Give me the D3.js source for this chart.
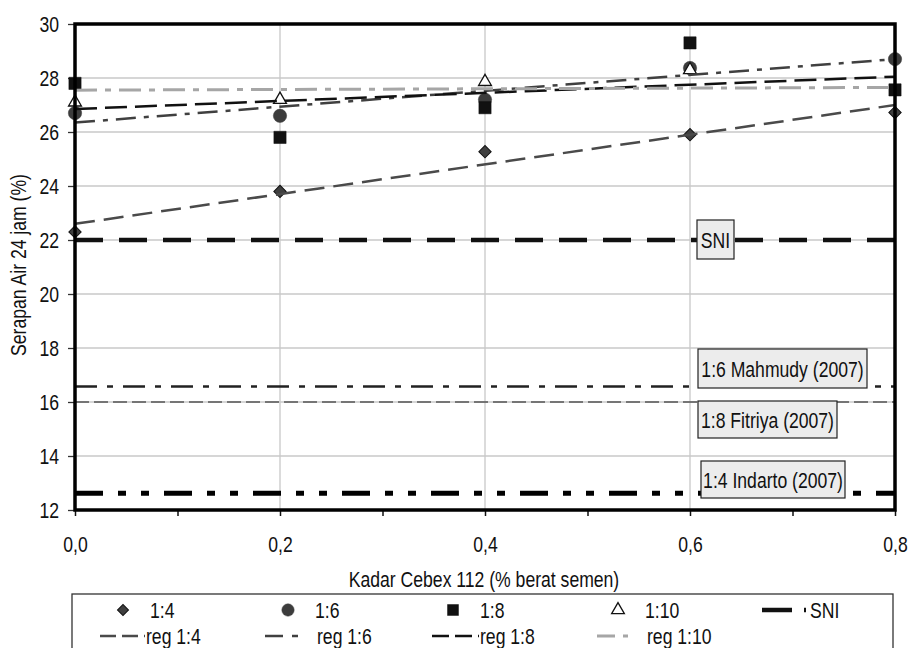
<!DOCTYPE html>
<html><head><meta charset="utf-8">
<script src="https://cdn.jsdelivr.net/npm/d3@7"></script>
<style>
body{margin:0;background:#fff;}
text{font-family:"Liberation Sans",Arial,sans-serif;fill:#111;}
</style></head>
<body><svg id="c" width="910" height="648"></svg>
<script>
// ---- data ----
const xVals = [0, 0.2, 0.4, 0.6, 0.8];
const xTickLabels = ["0,0", "0,2", "0,4", "0,6", "0,8"];
const yTickVals = [12, 14, 16, 18, 20, 22, 24, 26, 28, 30];
const s14 = [22.3, 23.8, 25.27, 25.9, 26.72];
const s16 = [26.7, 26.6, 27.2, 28.37, 28.7];
const s18 = [27.8, 25.8, 26.9, 29.3, 27.56];
const s110 = [27.1, 27.2, 27.86, 28.3, null];
const regX = [0, 0.8];
const reg14 = [22.6, 27.0];
const reg16 = [26.35, 28.7];
const reg18 = [26.85, 28.05];
const reg110 = [27.55, 27.65];
const refNames = ["SNI", "1:6 Mahmudy (2007)", "1:8 Fitriya (2007)", "1:4 Indarto (2007)"];
const refValues = [22, 16.57, 16.0, 12.62];
const legendRow1 = ["1:4", "1:6", "1:8", "1:10", "SNI"];
const legendRow2 = ["reg 1:4", "reg 1:6", "reg 1:8", "reg 1:10"];
const xTitle = "Kadar Cebex 112 (% berat semen)";
const yTitle = "Serapan Air 24 jam (%)";

// ---- layout ----
const svg = d3.select("#c");
const x = d3.scaleLinear().domain([0, 0.8]).range([75, 895]);
const y = d3.scaleLinear().domain([12, 30]).range([510, 24]);
const FS = 22;
const NARROW = 0.8;

// condense text horizontally (Arial-Narrow look)
function condense(sel) {
  sel.each(function () {
    const t = d3.select(this);
    const X = +t.attr("x") || 0, Y = +t.attr("y") || 0;
    const prev = t.attr("transform") || "";
    t.attr("x", 0).attr("y", 0).attr("transform", `${prev} translate(${X},${Y}) scale(${NARROW},1)`);
  });
}

// grid
const g = svg.append("g");
g.selectAll(".hg").data(yTickVals.filter(v => v > 12 && v < 30)).enter().append("line")
  .attr("x1", x(0)).attr("x2", x(0.8)).attr("y1", d => y(d)).attr("y2", d => y(d))
  .attr("stroke", "#c8c8c8").attr("stroke-width", 1.3);
g.selectAll(".vg").data([0.2, 0.4, 0.6]).enter().append("line")
  .attr("y1", y(12)).attr("y2", y(30)).attr("x1", d => x(d)).attr("x2", d => x(d))
  .attr("stroke", "#c8c8c8").attr("stroke-width", 1.3);

// axes
const yAxis = d3.axisLeft(y).tickValues(yTickVals).tickSize(7).tickSizeOuter(0).tickPadding(9);
const ya = svg.append("g").attr("transform", `translate(${x(0)},0)`).call(yAxis);
ya.select(".domain").remove();
ya.selectAll(".tick line").attr("stroke", "#333").attr("stroke-width", 1.3);
ya.selectAll(".tick text").attr("font-size", FS).style("font-family", null).attr("fill", "#111").attr("dy", "0.35em");
condense(ya.selectAll(".tick text"));

const xAxis = d3.axisBottom(x).tickValues([0, 0.1, 0.2, 0.3, 0.4, 0.5, 0.6, 0.7, 0.8])
  .tickSize(6).tickSizeOuter(0).tickPadding(20)
  .tickFormat(d => { const i = xVals.findIndex(v => Math.abs(v - d) < 1e-9); return i >= 0 ? xTickLabels[i] : ""; });
const xa = svg.append("g").attr("transform", `translate(0,${y(12)})`).call(xAxis);
xa.select(".domain").remove();
xa.selectAll(".tick line").attr("stroke", "#111").attr("stroke-width", 1.5);
xa.selectAll(".tick text").attr("font-size", FS).style("font-family", null).attr("fill", "#111");
condense(xa.selectAll(".tick text"));

// titles
const tt = [];
tt.push(svg.append("text").attr("x", (x(0) + x(0.8)) / 2 - 1).attr("y", 587).attr("text-anchor", "middle")
  .attr("font-size", FS).text(xTitle));
tt.push(svg.append("text").attr("transform", `translate(26,${(y(12) + y(30)) / 2 - 2}) rotate(-90)`)
  .attr("text-anchor", "middle").attr("font-size", FS).text(yTitle));
tt.forEach(condense);

// reference lines
const refStyles = [
  {stroke: "#111", w: 4.5, dash: "28,16", x2: 902},
  {stroke: "#222", w: 2.5, dash: "22,10,6,10", x2: 895},
  {stroke: "#555", w: 1.3, dash: "14,5", x2: 895},
  {stroke: "#000", w: 5, dash: "28,15,8,15,8,15", x2: 895}
];
refValues.forEach((v, i) => {
  const s = refStyles[i];
  svg.append("line").attr("x1", x(0)).attr("x2", s.x2).attr("y1", y(v)).attr("y2", y(v))
    .attr("stroke", s.stroke).attr("stroke-width", s.w).attr("stroke-dasharray", s.dash);
});

// regression lines
const line = d3.line().x((d, i) => x(regX[i])).y(d => y(d));
const regs = [
  {d: reg14, stroke: "#4a4a4a", w: 2.5, dash: "20,9"},
  {d: reg16, stroke: "#404040", w: 2.5, dash: "20,8,5,8"},
  {d: reg18, stroke: "#111", w: 2.5, dash: "22,8"},
  {d: reg110, stroke: "#a6a6a6", w: 3, dash: "22,8,6,8"}
];

// markers
const mk = {
  diamond: {type: d3.symbolSquare, size: 76, rot: 45, fill: "#3f3f3f", stroke: "#111", sw: 1},
  circle: {type: d3.symbolCircle, size: 140, rot: 0, fill: "#3c3c3c", stroke: "#3c3c3c", sw: 0.5},
  square: {type: d3.symbolSquare, size: 150, rot: 0, fill: "#111", stroke: "#111", sw: 0.5},
  tri: {type: d3.symbolTriangle, size: 72, rot: 0, fill: "#fff", stroke: "#111", sw: 1.3}
};
function drawMarkers(vals, m) {
  svg.append("g").selectAll("path").data(vals.map((v, i) => ({v, i})).filter(d => d.v != null)).enter().append("path")
    .attr("d", d3.symbol().type(m.type).size(m.size))
    .attr("transform", d => `translate(${x(xVals[d.i])},${y(d.v)}) rotate(${m.rot})`)
    .attr("fill", m.fill).attr("stroke", m.stroke).attr("stroke-width", m.sw);
}
drawMarkers(s14, mk.diamond);
drawMarkers(s16, mk.circle);
drawMarkers(s18, mk.square);
drawMarkers(s110, mk.tri);

regs.forEach(r => {
  svg.append("path").attr("d", line(r.d)).attr("fill", "none").attr("stroke", r.stroke)
    .attr("stroke-width", r.w).attr("stroke-dasharray", r.dash);
});

// plot border
svg.append("rect").attr("x", x(0)).attr("y", y(30)).attr("width", x(0.8) - x(0)).attr("height", y(12) - y(30))
  .attr("fill", "none").attr("stroke", "#000").attr("stroke-width", 3.5);

// reference labels
const boxes = [
  {x: x(0.6) + 7, yTop: 220, h: 39, w: 37},
  {x: x(0.6) + 8, yTop: 349, h: 39, w: 169},
  {x: x(0.6) + 8, yTop: 401, h: 37, w: 139},
  {x: x(0.6) + 11, yTop: 461, h: 37, w: 144}
];
refNames.forEach((n, i) => {
  const b = boxes[i];
  svg.append("rect").attr("x", b.x).attr("y", b.yTop).attr("width", b.w).attr("height", b.h)
    .attr("fill", "#ececec").attr("stroke", "#222").attr("stroke-width", 1.2);
  condense(svg.append("text").attr("x", b.x + b.w / 2).attr("y", b.yTop + b.h / 2 + 8)
    .attr("text-anchor", "middle").attr("font-size", FS).text(n));
});

// legend
const lg = svg.append("g");
lg.append("rect").attr("x", 72).attr("y", 594).attr("width", 821).attr("height", 70)
  .attr("fill", "#fff").attr("stroke", "#333").attr("stroke-width", 1.3);
const colM = [123, 288, 453, 618];
const r1y = 610, r2y = 636;
const mkList = [mk.diamond, mk.circle, mk.square, mk.tri];
const legSizes = [60, 120, 120, 70];
legendRow1.slice(0, 4).forEach((t, i) => {
  const m = mkList[i];
  lg.append("path").attr("d", d3.symbol().type(m.type).size(legSizes[i]))
    .attr("transform", `translate(${colM[i]},${r1y}) rotate(${m.rot})`)
    .attr("fill", m.fill).attr("stroke", m.stroke).attr("stroke-width", m.sw);
  condense(lg.append("text").attr("x", colM[i] + 27).attr("y", r1y + 8).attr("font-size", FS).text(t));
});
lg.append("line").attr("x1", 762).attr("x2", 807).attr("y1", r1y).attr("y2", r1y)
  .attr("stroke", "#111").attr("stroke-width", 4.5).attr("stroke-dasharray", "30,12,2,20");
condense(lg.append("text").attr("x", 810).attr("y", r1y + 8).attr("font-size", FS).text(legendRow1[4]));

const regLeg = [
  {x1: 100, x2: 145, tx: 146, dash: "16,6"},
  {x1: 265, x2: 300, tx: 317, dash: "18,9,6,20"},
  {x1: 432, x2: 479, tx: 480, dash: "17,6"},
  {x1: 597, x2: 628, tx: 647, dash: "18,8,6,20"}
];
legendRow2.forEach((t, i) => {
  const L = regLeg[i], r = regs[i];
  lg.append("line").attr("x1", L.x1).attr("x2", L.x2).attr("y1", r2y).attr("y2", r2y)
    .attr("stroke", r.stroke).attr("stroke-width", r.w).attr("stroke-dasharray", L.dash);
  condense(lg.append("text").attr("x", L.tx).attr("y", r2y + 8).attr("font-size", FS).text(t));
});
</script></body></html>
